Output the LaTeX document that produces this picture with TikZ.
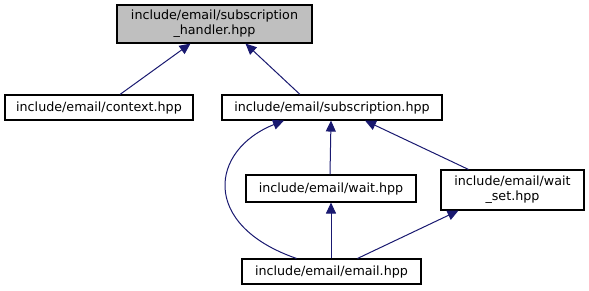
\documentclass[tikz,border=0pt]{standalone}
\usepackage{fontspec}
\setmainfont{DejaVu Sans}
\usetikzlibrary{arrows.meta}
\definecolor{edgeblue}{HTML}{191970}

\begin{document}
\begin{tikzpicture}[x=1pt,y=-1pt,font=\fontsize{12.7}{15}\selectfont,
  file/.style={draw=black,line width=1.1pt,fill=white,inner sep=0pt,minimum height=25pt,align=center},
  dep/.style={draw=edgeblue,line width=1pt,-{Triangle[length=11pt,width=10pt]}}]
\useasboundingbox (0,0) rectangle (589,291);
\node[file,fill=black!25,minimum width=195pt,minimum height=38pt] (handler) at (214.5,24) {include/email/subscription\\\_handler.hpp};
\node[file,minimum width=188pt] (ctx) at (99,107.5) {include/email/context.hpp};
\node[file,minimum width=220pt] (sub) at (332,107.5) {include/email/subscription.hpp};
\node[file,minimum width=170pt,minimum height=27pt] (wait) at (331,188.5) {include/email/wait.hpp};
\node[file,minimum width=143pt,minimum height=40pt] (waitset) at (512.5,190) {include/email/wait\\\_set.hpp};
\node[file,minimum width=179pt] (mail) at (331.5,271.5) {include/email/email.hpp};
% includes point up to the including file
\draw[dep] ([xshift=21pt]ctx.north) -- ([xshift=-24pt]handler.south);
\draw[dep] ([xshift=-32pt]sub.north) -- ([xshift=31pt]handler.south);
\draw[dep] ([xshift=-1pt]wait.north) -- ([xshift=-1pt]sub.south);
\draw[dep] ([xshift=-44pt]waitset.north) -- ([xshift=33pt]sub.south);
\draw[dep] ([xshift=-35pt]mail.north) .. controls (200,225) and (210,150) .. ([xshift=-48pt]sub.south);
\draw[dep] ([xshift=-0.5pt]mail.north) -- (wait.south);
\draw[dep] ([xshift=26pt]mail.north) -- ([xshift=-54pt]waitset.south);
\end{tikzpicture}
\end{document}
